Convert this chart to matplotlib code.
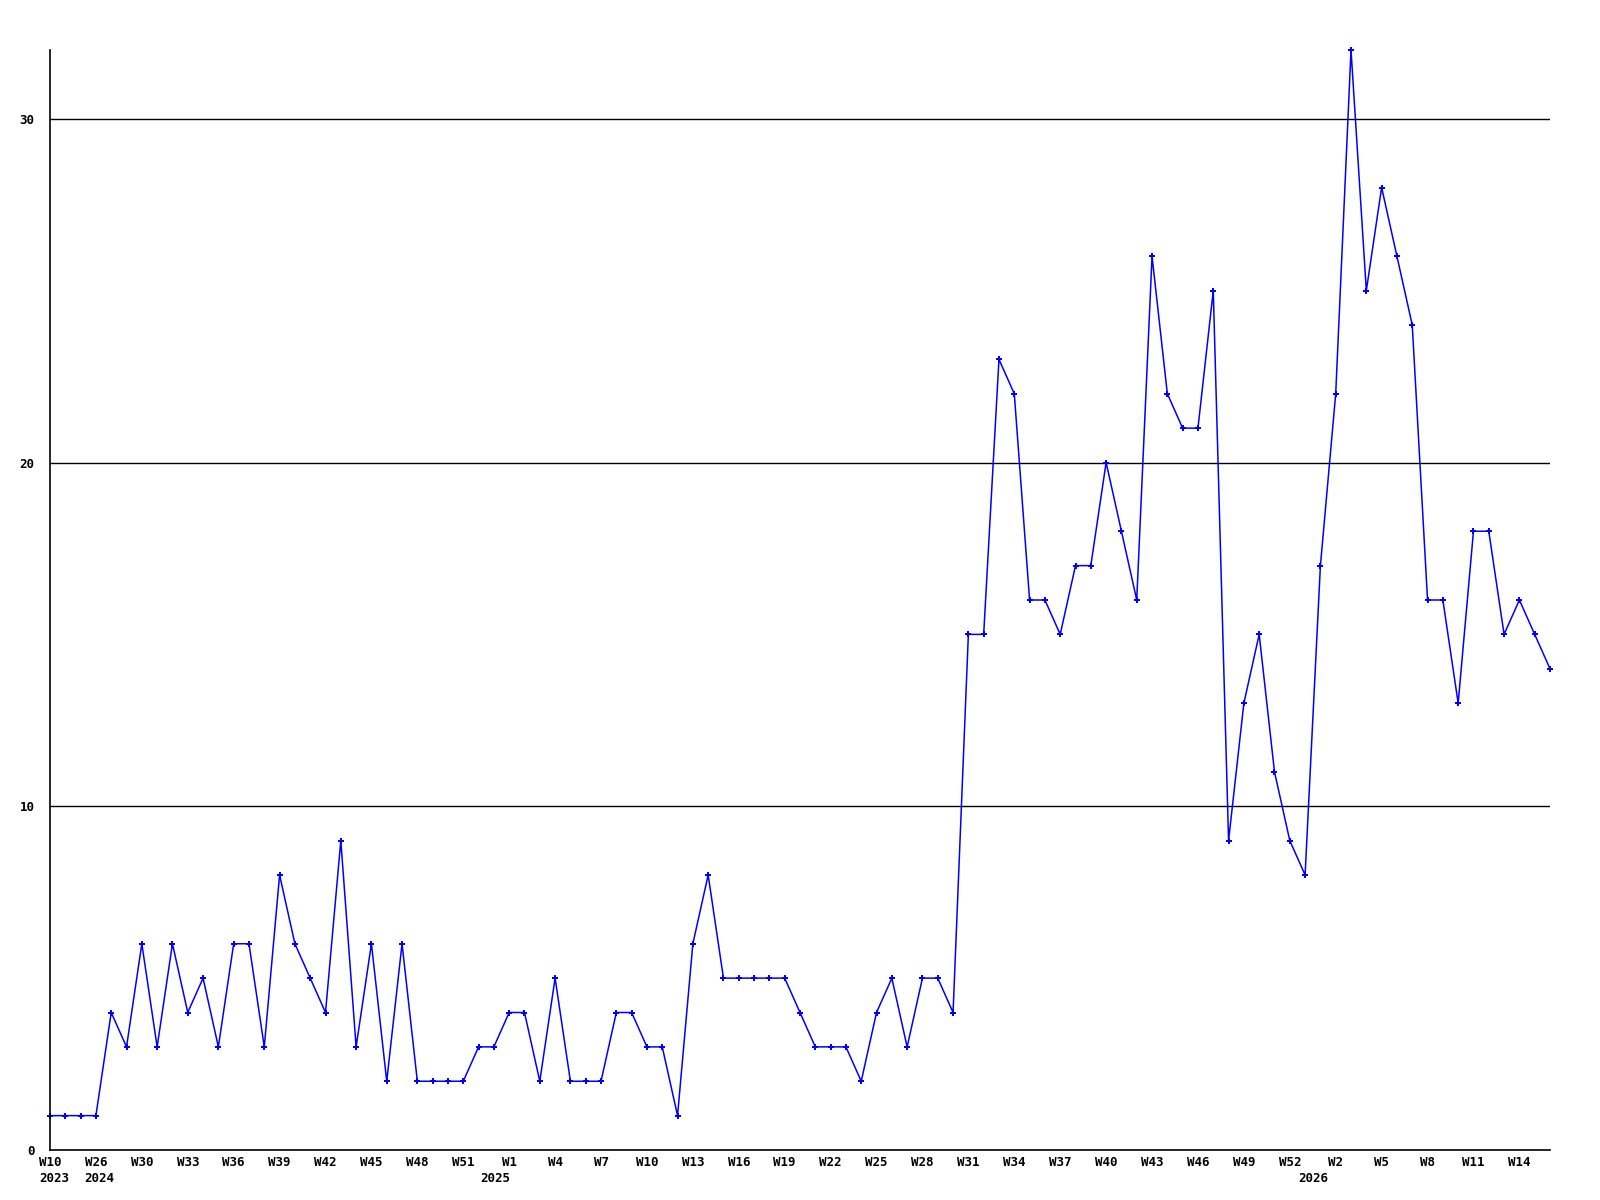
import matplotlib
matplotlib.use("Agg")
import matplotlib.pyplot as plt

# weekly counts, one per week
counts = [1, 1, 1, 1, 4, 3, 6, 3, 6, 4,
          5, 3, 6, 6, 3, 8, 6, 5, 4, 9,
          3, 6, 2, 6, 2, 2, 2, 2, 3, 3,
          4, 4, 2, 5, 2, 2, 2, 4, 4, 3,
          3, 1, 6, 8, 5, 5, 5, 5, 5, 4,
          3, 3, 3, 2, 4, 5, 3, 5, 5, 4,
          15, 15, 23, 22, 16, 16, 15, 17, 17, 20,
          18, 16, 26, 22, 21, 21, 25, 9, 13, 15,
          11, 9, 8, 17, 22, 32, 25, 28, 26, 24,
          16, 16, 13, 18, 18, 15, 16, 15, 14]

# labels shown on every third week
week_labels = ["W10", "W26", "W30", "W33", "W36", "W39", "W42", "W45",
               "W48", "W51", "W1", "W4", "W7", "W10", "W13", "W16", "W19",
               "W22", "W25", "W28", "W31", "W34", "W37", "W40", "W43", "W46",
               "W49", "W52", "W2", "W5", "W8", "W11", "W14"]
years = ["2023", "2024", "2025", "2026"]
year_pos = [0.3, 3.2, 29.1, 82.5]
y_ticks = [0, 10, 20, 30]

fig = plt.figure(figsize=(16, 12), dpi=100)
ax = fig.add_axes([50 / 1600, 50 / 1200, 1500 / 1600, 1100 / 1200])

x = list(range(len(counts)))
ax.plot(x, counts, color="#0000ff", lw=1.1, marker="P", ms=4.5, mew=0, clip_on=False)

ax.set_xlim(0, len(counts) - 1)
ax.set_ylim(0, 32)

ax.set_yticks(y_ticks)
ax.set_yticklabels([str(v) for v in y_ticks])
ax.set_xticks(list(range(0, len(counts), 3)))
ax.set_xticklabels(week_labels)
ax.set_xticks(year_pos, minor=True)
ax.set_xticklabels(years, minor=True)

for v in y_ticks[1:]:
    ax.axhline(v, color="black", lw=1.0, zorder=0)

labels = ax.get_xticklabels() + ax.get_yticklabels() + ax.get_xticklabels(minor=True)
for lab in labels:
    lab.set_fontfamily("DejaVu Sans Mono")
    lab.set_fontweight("bold")
    lab.set_fontsize(9)

ax.tick_params(which="both", length=0)
ax.tick_params(axis="x", which="major", pad=4)
ax.tick_params(axis="x", which="minor", pad=16)
ax.tick_params(axis="y", pad=11)
ax.spines["top"].set_visible(False)
ax.spines["right"].set_visible(False)
ax.spines["left"].set_linewidth(1.2)
ax.spines["bottom"].set_linewidth(1.2)

fig.savefig("out.png", dpi=100)
